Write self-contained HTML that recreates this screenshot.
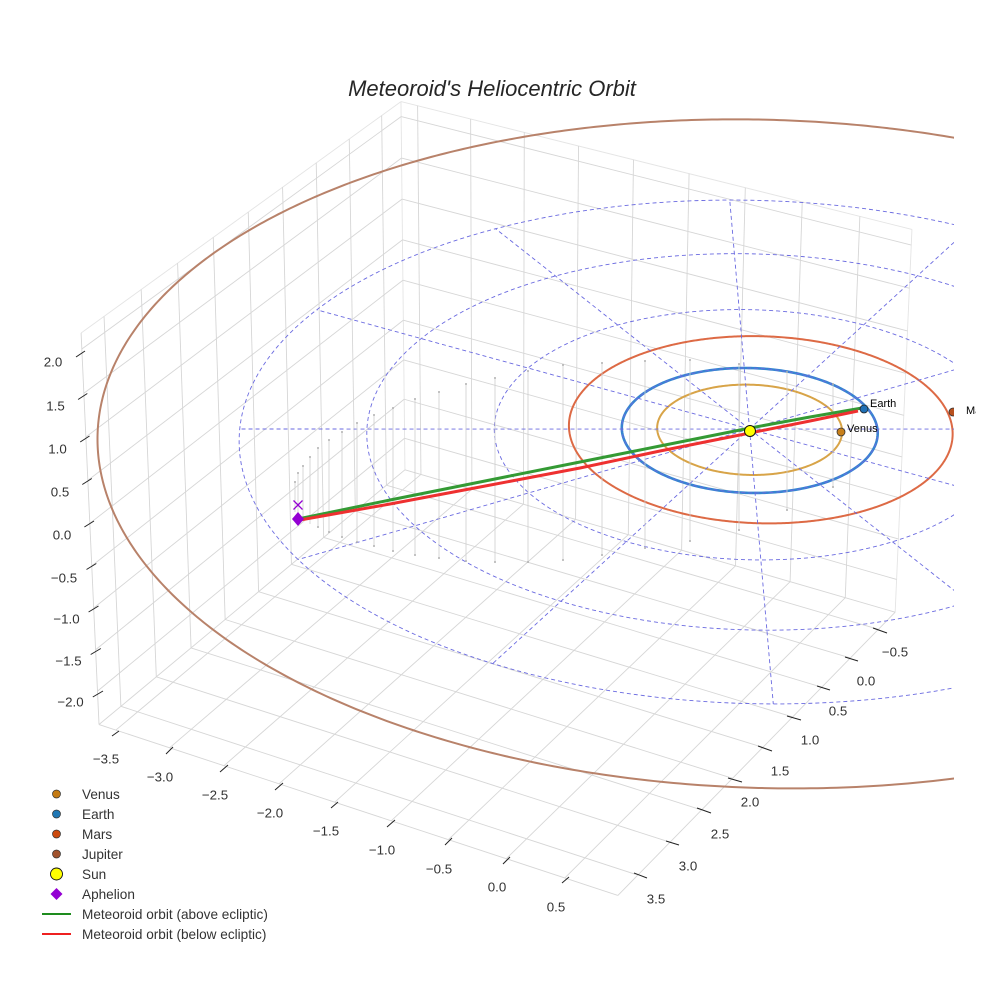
<!DOCTYPE html>
<html><head><meta charset="utf-8">
<style>
html,body{margin:0;padding:0;background:#fff;}
svg{display:block;font-family:"Liberation Sans",Arial,sans-serif;}
</style></head><body>
<svg id="s" width="984" height="984" viewBox="0 0 984 984" xmlns="http://www.w3.org/2000/svg">
<defs>
<clipPath id="cr"><rect x="0" y="0" width="954" height="984"/></clipPath>
<clipPath id="ct"><rect x="0" y="0" width="976" height="984"/></clipPath>
</defs>
<rect width="984" height="984" fill="#fff"/>
<g id="grid" fill="none" stroke="#d6d6d6" stroke-width="0.9"></g>
<g clip-path="url(#cr)" fill="none">
 <g id="orb" fill="none"></g>
 <g id="dash" fill="none" stroke="#6a6ae0" stroke-width="0.9" stroke-dasharray="4 3"></g>
</g>

<!-- stems -->
<g stroke="#cdcdcd" stroke-width="0.8" fill="none">
<line x1="295" y1="482" x2="295" y2="512"/><line x1="298" y1="473" x2="298" y2="516"/>
<line x1="303" y1="466" x2="303" y2="520"/><line x1="310" y1="457" x2="310" y2="524"/>
<line x1="318" y1="448" x2="318" y2="527"/><line x1="329" y1="440" x2="329" y2="532"/>
<line x1="342" y1="432" x2="342" y2="537"/><line x1="357" y1="423" x2="357" y2="542"/>
<line x1="374" y1="415" x2="374" y2="546"/><line x1="393" y1="408" x2="393" y2="551"/>
<line x1="415" y1="399" x2="415" y2="555"/><line x1="439" y1="392" x2="439" y2="558"/>
<line x1="466" y1="384" x2="466" y2="561"/><line x1="495" y1="378" x2="495" y2="562"/>
<line x1="528" y1="371" x2="528" y2="562"/><line x1="563" y1="365" x2="563" y2="560"/>
<line x1="602" y1="363" x2="602" y2="555"/><line x1="645" y1="361" x2="645" y2="548"/>
<line x1="690" y1="360" x2="690" y2="541"/><line x1="739" y1="364" x2="739" y2="530"/>
<line x1="787" y1="372" x2="787" y2="510"/><line x1="833" y1="384" x2="833" y2="487"/>
</g>
<g fill="#b0b0b0">
<circle cx="295" cy="482" r="1"/><circle cx="298" cy="473" r="1"/><circle cx="303" cy="466" r="1"/><circle cx="310" cy="457" r="1"/>
<circle cx="318" cy="448" r="1"/><circle cx="329" cy="440" r="1"/><circle cx="342" cy="432" r="1"/><circle cx="357" cy="423" r="1"/>
<circle cx="374" cy="415" r="1"/><circle cx="393" cy="408" r="1"/><circle cx="415" cy="399" r="1"/><circle cx="439" cy="392" r="1"/>
<circle cx="466" cy="384" r="1"/><circle cx="495" cy="378" r="1"/><circle cx="528" cy="371" r="1"/><circle cx="563" cy="365" r="1"/>
<circle cx="602" cy="363" r="1"/><circle cx="645" cy="361" r="1"/><circle cx="690" cy="360" r="1"/><circle cx="739" cy="364" r="1"/>
<circle cx="787" cy="372" r="1"/><circle cx="833" cy="384" r="1"/>
<circle cx="318" cy="527" r="1"/><circle cx="329" cy="532" r="1"/><circle cx="342" cy="537" r="1"/><circle cx="357" cy="542" r="1"/>
<circle cx="374" cy="546" r="1"/><circle cx="393" cy="551" r="1"/><circle cx="415" cy="555" r="1"/><circle cx="439" cy="558" r="1"/>
<circle cx="466" cy="561" r="1"/><circle cx="495" cy="562" r="1"/><circle cx="528" cy="562" r="1"/><circle cx="563" cy="560" r="1"/>
<circle cx="602" cy="555" r="1"/><circle cx="645" cy="548" r="1"/><circle cx="690" cy="541" r="1"/><circle cx="739" cy="530" r="1"/>
<circle cx="787" cy="510" r="1"/><circle cx="833" cy="487" r="1"/>
</g>

<!-- meteoroid orbit -->
<polyline points="298,519 390,500 480,482 580,462 660,446 750,428 810,417 862,408" fill="none" stroke="#349a34" stroke-width="3" stroke-linejoin="round"/>
<polyline points="300,520 390,504 480,487 580,468 660,451 750,433 810,421 858,411" fill="none" stroke="#ee3030" stroke-width="3" stroke-linejoin="round"/>

<!-- markers -->
<circle cx="750" cy="431" r="5.5" fill="#ffff00" stroke="#111" stroke-width="1"/>
<circle cx="841" cy="432" r="4" fill="#c8801a" stroke="#333" stroke-width="0.8"/>
<circle cx="864" cy="409" r="4" fill="#1f6fb4" stroke="#222" stroke-width="0.8"/>
<g clip-path="url(#cr)"><circle cx="953" cy="412" r="4" fill="#b8501e" stroke="#333" stroke-width="0.8"/></g>
<polygon points="298,512 304,519 298,526 292,519" fill="#9400d3"/>
<path d="M293.5 500.5 L302.5 509.5 M302.5 500.5 L293.5 509.5" stroke="#9400d3" stroke-width="1.3" fill="none"/>
<g font-size="11" fill="#000">
<text x="870" y="407">Earth</text>
<text x="847" y="432">Venus</text>
<text x="966" y="414" clip-path="url(#ct)">Mars</text>
</g>

<!-- title -->
<text x="492" y="96" font-size="22" font-style="italic" fill="#262626" text-anchor="middle">Meteoroid's Heliocentric Orbit</text>

<!-- ticks -->
<g stroke="#222" stroke-width="1">
<line x1="76" y1="357" x2="85" y2="351"/><line x1="78.1" y1="399.5" x2="87.3" y2="393.5"/>
<line x1="80.2" y1="442" x2="89.5" y2="436"/><line x1="82.3" y1="484.5" x2="91.8" y2="478.5"/>
<line x1="84.4" y1="527" x2="94" y2="521"/><line x1="86.5" y1="569.5" x2="96.3" y2="563.5"/>
<line x1="88.6" y1="612" x2="98.5" y2="606"/><line x1="90.7" y1="654.5" x2="100.8" y2="648.5"/>
<line x1="92.8" y1="697" x2="103" y2="691"/>
<line x1="112" y1="736" x2="119" y2="731"/><line x1="166" y1="754" x2="173" y2="747"/>
<line x1="220" y1="772" x2="228" y2="765"/><line x1="275" y1="790" x2="283" y2="783"/>
<line x1="331" y1="808" x2="338" y2="802"/><line x1="387" y1="827" x2="395" y2="820"/>
<line x1="445" y1="845" x2="452" y2="838"/><line x1="503" y1="864" x2="510" y2="857"/>
<line x1="562" y1="883" x2="569" y2="877"/>
<line x1="873" y1="628" x2="887" y2="633"/><line x1="845" y1="657" x2="858" y2="661"/>
<line x1="817" y1="686" x2="830" y2="690"/><line x1="787" y1="716" x2="801" y2="720"/>
<line x1="758" y1="746" x2="772" y2="751"/><line x1="728" y1="778" x2="742" y2="782"/>
<line x1="697" y1="808" x2="711" y2="813"/><line x1="666" y1="841" x2="679" y2="845"/>
<line x1="634" y1="873" x2="647" y2="878"/>
</g>
<g font-size="13.3" fill="#333" text-anchor="middle">
<text x="53" y="362" dy="0.35em">2.0</text><text x="55.5" y="406" dy="0.35em">1.5</text>
<text x="57.5" y="449" dy="0.35em">1.0</text><text x="60" y="492" dy="0.35em">0.5</text>
<text x="62" y="535" dy="0.35em">0.0</text><text x="64" y="578" dy="0.35em">−0.5</text>
<text x="66.5" y="619" dy="0.35em">−1.0</text><text x="68.5" y="661" dy="0.35em">−1.5</text>
<text x="70.5" y="702" dy="0.35em">−2.0</text>
<text x="106" y="759" dy="0.35em">−3.5</text><text x="160" y="777" dy="0.35em">−3.0</text>
<text x="215" y="795" dy="0.35em">−2.5</text><text x="270" y="813" dy="0.35em">−2.0</text>
<text x="326" y="831" dy="0.35em">−1.5</text><text x="382" y="850" dy="0.35em">−1.0</text>
<text x="439" y="869" dy="0.35em">−0.5</text><text x="497" y="887" dy="0.35em">0.0</text>
<text x="556" y="907" dy="0.35em">0.5</text>
<text x="895" y="652" dy="0.35em">−0.5</text><text x="866" y="681" dy="0.35em">0.0</text>
<text x="838" y="711" dy="0.35em">0.5</text><text x="810" y="740" dy="0.35em">1.0</text>
<text x="780" y="771" dy="0.35em">1.5</text><text x="750" y="802" dy="0.35em">2.0</text>
<text x="720" y="834" dy="0.35em">2.5</text><text x="688" y="866" dy="0.35em">3.0</text>
<text x="656" y="899" dy="0.35em">3.5</text>
</g>

<!-- legend -->
<circle cx="56.5" cy="794" r="4" fill="#c47a12" stroke="#333" stroke-width="0.7"/>
<circle cx="56.5" cy="814" r="4" fill="#1f77b4" stroke="#333" stroke-width="0.7"/>
<circle cx="56.5" cy="834" r="4" fill="#cc4a0e" stroke="#333" stroke-width="0.7"/>
<circle cx="56.5" cy="854" r="4" fill="#a0522d" stroke="#333" stroke-width="0.7"/>
<circle cx="56.5" cy="874" r="6" fill="#ffff00" stroke="#111" stroke-width="0.9"/>
<polygon points="56.5,888 62.5,894 56.5,900 50.5,894" fill="#9400d3"/>
<line x1="42" y1="914" x2="71" y2="914" stroke="#1e8c1e" stroke-width="2"/>
<line x1="42" y1="934" x2="71" y2="934" stroke="#ee2020" stroke-width="2"/>
<g font-size="13.6" fill="#333">
<text x="82" y="794" dy="0.35em">Venus</text>
<text x="82" y="814" dy="0.35em">Earth</text>
<text x="82" y="834" dy="0.35em">Mars</text>
<text x="82" y="854" dy="0.35em">Jupiter</text>
<text x="82" y="874" dy="0.35em">Sun</text>
<text x="82" y="894" dy="0.35em">Aphelion</text>
<text x="82" y="914" dy="0.35em">Meteoroid orbit (above ecliptic)</text>
<text x="82" y="934" dy="0.35em">Meteoroid orbit (below ecliptic)</text>
</g>
</svg>
<script>
(function(){
var NS="http://www.w3.org/2000/svg";
var corners=[
 [[0,1,1],[81,333]],[[0,1,0],[99,725]],[[0,0,1],[401,102]],[[0,0,0],[405,469]],
 [[1,0,1],[912,229]],[[1,0,0],[895,613]],[[1,1,0],[618,895]]];
var rows=[],rhs=[];
corners.forEach(function(c){var X=c[0][0],Y=c[0][1],Z=c[0][2],u=c[1][0],v=c[1][1];
 rows.push([X,Y,Z,1,0,0,0,0,-u*X,-u*Y,-u*Z]);rhs.push(u);
 rows.push([0,0,0,0,X,Y,Z,1,-v*X,-v*Y,-v*Z]);rhs.push(v);});
var n=11,A=[],b=[];
for(var i=0;i<n;i++){A.push([]);var s=0;for(var k=0;k<rows.length;k++)s+=rows[k][i]*rhs[k];b.push(s);
 for(var j=0;j<n;j++){var t=0;for(var k2=0;k2<rows.length;k2++)t+=rows[k2][i]*rows[k2][j];A[i].push(t);}}
function solve(A,b){var n=b.length,M=A.map(function(r,i){return r.concat([b[i]]);});
 for(var c=0;c<n;c++){var p=c;for(var r=c+1;r<n;r++)if(Math.abs(M[r][c])>Math.abs(M[p][c]))p=r;
  var tmp=M[c];M[c]=M[p];M[p]=tmp;
  for(var r2=0;r2<n;r2++){if(r2===c)continue;var f=M[r2][c]/M[c][c];for(var k=c;k<=n;k++)M[r2][k]-=f*M[c][k];}}
 return M.map(function(r,i){return r[n]/r[i];});}
var P=solve(A,b);
function H(X,Y,Z){return [P[0]*X+P[1]*Y+P[2]*Z+P[3],P[4]*X+P[5]*Y+P[6]*Z+P[7],P[8]*X+P[9]*Y+P[10]*Z+1];}
function pr(X,Y,Z){var h=H(X,Y,Z);return [h[0]/h[2],h[1]/h[2]];}
function edgeT(Aa,Bb,c,k){var ha=H(Aa[0],Aa[1],Aa[2]),hb=H(Bb[0],Bb[1],Bb[2]);
 var d=[hb[0]-ha[0],hb[1]-ha[1],hb[2]-ha[2]];return (ha[k]-c*ha[2])/(c*d[2]-d[k]);}
function fit(ts,vals){var m=ts.length,mt=0,mv=0;for(var i=0;i<m;i++){mt+=ts[i];mv+=vals[i];}mt/=m;mv/=m;
 var cv=0,vr=0;for(var i2=0;i2<m;i2++){cv+=(ts[i2]-mt)*(vals[i2]-mv);vr+=(ts[i2]-mt)*(ts[i2]-mt);}
 var sl=cv/vr,a=mv-sl*mt;return [a,a+sl];}
var ticks=[-3.5,-3,-2.5,-2,-1.5,-1,-0.5,0,0.5];
var xp=[417,470,525,579,634,689,746,802,859],ts=[];
xp.forEach(function(c){ts.push(edgeT([0,0,1],[1,0,1],c,0));});
var XL=fit(ts,ticks);
var yt=[-0.5,0,0.5,1,1.5,2,2.5,3,3.5],yp=[382,349,316,283,248,213,177,142,104];ts=[];
yp.forEach(function(c){ts.push(edgeT([0,0,1],[0,1,1],c,0));});
var YL=fit(ts,yt);
var zt=[-2,-1.5,-1,-0.5,0,0.5,1,1.5,2],zb=[440,402,362,322,282,242,200,160,118],zl=[690,648,605,563,520,478,435,392,349];
ts=[];var zv=[];
zb.forEach(function(c,i){ts.push(edgeT([0,0,0],[0,0,1],c,1));zv.push(zt[i]);});
zl.forEach(function(c,i){ts.push(edgeT([0,1,0],[0,1,1],c,1));zv.push(zt[i]);});
var ZL=fit(ts,zv);
function U(x,y,z){return [(x-XL[0])/(XL[1]-XL[0]),(y-YL[0])/(YL[1]-YL[0]),(z-ZL[0])/(ZL[1]-ZL[0])];}
function pd(x,y,z){var u=U(x,y,z);return pr(u[0],u[1],u[2]);}
function path(g,pts,attrs){var d="";pts.forEach(function(p,i){d+=(i?"L":"M")+p[0].toFixed(2)+" "+p[1].toFixed(2);});
 var e=document.createElementNS(NS,"path");e.setAttribute("d",d);for(var k in attrs)e.setAttribute(k,attrs[k]);g.appendChild(e);}
var grid=document.getElementById("grid");
function gl(a,b2,attrs){path(grid,[pr(a[0],a[1],a[2]),pr(b2[0],b2[1],b2[2])],attrs||{});}
var edgeC={"stroke":"#e4e4e4"};
gl([0,1,1],[0,0,1],edgeC);gl([0,0,1],[1,0,1],edgeC);
gl([0,1,1],[0,1,0],{});gl([1,0,1],[1,0,0],{"stroke":"#e4e4e4"});
gl([0,1,0],[1,1,0],{});gl([1,1,0],[1,0,0],{});
gl([0,0,0],[0,0,1],edgeC);gl([0,0,0],[0,1,0],{});gl([0,0,0],[1,0,0],{});
ticks.forEach(function(x){var u=U(x,0,0)[0];gl([u,0,0],[u,1,0]);gl([u,0,0],[u,0,1]);});
yt.forEach(function(y){var u=U(0,y,0)[1];gl([0,u,0],[1,u,0]);gl([0,u,0],[0,u,1]);});
zt.forEach(function(z){var u=U(0,0,z)[2];gl([0,0,u],[0,1,u]);gl([0,0,u],[1,0,u]);});
var orb=document.getElementById("orb"),dash=document.getElementById("dash");
var D=Math.PI/180;
function circ(r){var pts=[];for(var i=0;i<=360;i++){var a=i*D;pts.push(pd(r*Math.cos(a),r*Math.sin(a),0));}return pts;}
// shifted / tilted orbit: shift h along 330deg (screen right), v along 240deg (screen up)
function orbit(R,h,v,zamp){var cx=h*Math.cos(330*D)+v*Math.cos(240*D),cy=h*Math.sin(330*D)+v*Math.sin(240*D);
 var pts=[];for(var i=0;i<=720;i++){var a=i*D/2;pts.push(pd(cx+R*Math.cos(a),cy+R*Math.sin(a),zamp*Math.cos(a-240*D)));}return pts;}
path(orb,orbit(5.203,0.08,0.23,0.1),{"stroke":"#b8826a","stroke-width":"2"});
path(orb,orbit(1.50,0.086,0.04,0),{"stroke":"#dd6a45","stroke-width":"2"});
path(orb,circ(1.0),{"stroke":"#3585d0","stroke-width":"2.6"});
path(orb,circ(0.723),{"stroke":"#d8a448","stroke-width":"2"});
[1,2,3,4].forEach(function(r){path(dash,circ(r),{});});
for(var k=0;k<12;k++){var a=k*Math.PI/6;path(dash,[pd(0,0,0),pd(4*Math.cos(a),4*Math.sin(a),0)],{});}
})();
</script>
</body></html>
